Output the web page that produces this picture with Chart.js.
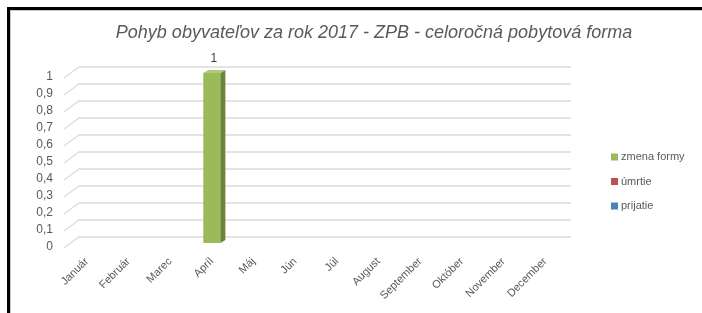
<!DOCTYPE html>
<html><head><meta charset="utf-8">
<script src="https://cdn.jsdelivr.net/npm/chart.js@4.4.0/dist/chart.umd.min.js"></script>
<style>
html,body{margin:0;padding:0;background:#fff;}
#wrap{position:relative;width:702px;height:313px;overflow:hidden;}
#c{position:absolute;left:0;top:0;}
#frame{position:absolute;left:7px;top:7px;width:720px;height:340px;border-left:3px solid #000;border-top:3px solid #000;box-sizing:border-box;pointer-events:none;}
#frame2{position:absolute;left:10px;top:10px;width:720px;height:340px;border-left:1px solid #c8c8c8;border-top:1px solid #c8c8c8;box-sizing:border-box;pointer-events:none;}
</style></head>
<body><div id="wrap"><canvas id="c" width="702" height="313"></canvas><div id="frame"></div><div id="frame2"></div></div>
<script>
const categories = ['Január','Február','Marec','Apríl','Máj','Jún','Júl','August','September','Október','November','December'];
const zmenaFormy = [0,0,0,1,0,0,0,0,0,0,0,0];
const umrtie = [0,0,0,0,0,0,0,0,0,0,0,0];
const prijatie = [0,0,0,0,0,0,0,0,0,0,0,0];
const yTickLabels = ['0','0,1','0,2','0,3','0,4','0,5','0,6','0,7','0,8','0,9','1'];
const seriesNames = ['zmena formy','úmrtie','prijatie'];
const titleText = 'Pohyb obyvateľov za rok 2017 - ZPB - celoročná pobytová forma';

const TXT = '#595959';
const FONT = '"Liberation Sans", Arial, sans-serif';

const gridPlugin = {
  id: 'grid3d',
  beforeDatasetsDraw(chart) {
    const ctx = chart.ctx, ys = chart.scales.y, a = chart.chartArea;
    ctx.save();
    ctx.strokeStyle = '#dcdcdc';
    ctx.lineWidth = 1.3;
    ys.ticks.forEach(t => {
      const p = ys.getPixelForValue(t.value);
      ctx.beginPath();
      ctx.moveTo(a.left - 2, p + 5);
      ctx.lineTo(a.left + 13, p - 6);
      ctx.lineTo(a.right + 5, p - 6);
      ctx.stroke();
    });
    ctx.restore();
  },
  afterDatasetsDraw(chart) {
    const ctx = chart.ctx;
    ctx.save();
    chart.data.datasets.forEach((ds, di) => {
      const meta = chart.getDatasetMeta(di);
      meta.data.forEach((el, i) => {
        if (!(ds.data[i] > 0)) return;
        const l = el.x - el.width / 2, r = el.x + el.width / 2, y = el.y, b = el.base;
        const dx = 5, dy = 3;
        ctx.fillStyle = ds.sideColor;
        ctx.beginPath();
        ctx.moveTo(r, y); ctx.lineTo(r + dx, y - dy); ctx.lineTo(r + dx, b - dy); ctx.lineTo(r, b); ctx.closePath();
        ctx.fill();
        ctx.fillStyle = ds.topColor;
        ctx.beginPath();
        ctx.moveTo(l, y); ctx.lineTo(l + dx, y - dy); ctx.lineTo(r + dx, y - dy); ctx.lineTo(r, y); ctx.closePath();
        ctx.fill();
        ctx.fillStyle = '#404040';
        ctx.font = '12px ' + FONT;
        ctx.textAlign = 'center';
        ctx.textBaseline = 'middle';
        ctx.fillText(String(ds.data[i]).replace('.', ','), el.x + 2, y - 14);
      });
    });
    ctx.restore();
  },
  afterDraw(chart) {
    const ctx = chart.ctx;
    ctx.save();
    ctx.fillStyle = TXT;
    ctx.font = 'italic 18px ' + FONT;
    ctx.textAlign = 'center';
    ctx.textBaseline = 'middle';
    ctx.fillText(titleText, 374, 33);
    ctx.font = '11px ' + FONT;
    ctx.textAlign = 'left';
    chart.data.datasets.forEach((ds, i) => {
      const y = 157 + i * 24.5;
      ctx.fillStyle = ds.backgroundColor;
      ctx.fillRect(611, y - 3.5, 7, 7);
      ctx.fillStyle = TXT;
      ctx.fillText(ds.label, 621, y);
    });
    ctx.restore();
  }
};

new Chart(document.getElementById('c'), {
  type: 'bar',
  data: {
    labels: categories,
    datasets: [
      { label: seriesNames[0], data: zmenaFormy, backgroundColor: '#9BBB59', sideColor: '#6B853A', topColor: '#AFC97A' },
      { label: seriesNames[1], data: umrtie, backgroundColor: '#C0504D', sideColor: '#8E3A38', topColor: '#D07875' },
      { label: seriesNames[2], data: prijatie, backgroundColor: '#4F81BD', sideColor: '#3A5F8C', topColor: '#7A9ED0' }
    ]
  },
  options: {
    responsive: false,
    animation: false,
    devicePixelRatio: 1,
    layout: { padding: { left: 0, right: 136, top: 73, bottom: 0 } },
    datasets: { bar: { categoryPercentage: 1, barPercentage: 0.41, grouped: false, borderWidth: 0 } },
    plugins: { legend: { display: false }, title: { display: false }, tooltip: { enabled: false } },
    scales: {
      x: {
        grid: { display: false, drawTicks: false },
        border: { display: false },
        ticks: { autoSkip: false, minRotation: 45, maxRotation: 45, color: TXT, font: { family: FONT, size: 11 }, padding: 12 },
        afterFit(s) { s.height = 70; }
      },
      y: {
        min: 0, max: 1,
        grid: { display: false, drawTicks: false },
        border: { display: false },
        ticks: { stepSize: 0.1, autoSkip: false, color: TXT, font: { family: FONT, size: 12 }, padding: 13, labelOffset: 4,
          callback: (v) => yTickLabels[Math.round(v * 10)] },
        afterFit(s) { s.width = 66; }
      }
    }
  },
  plugins: [gridPlugin]
});
</script>
</body></html>
